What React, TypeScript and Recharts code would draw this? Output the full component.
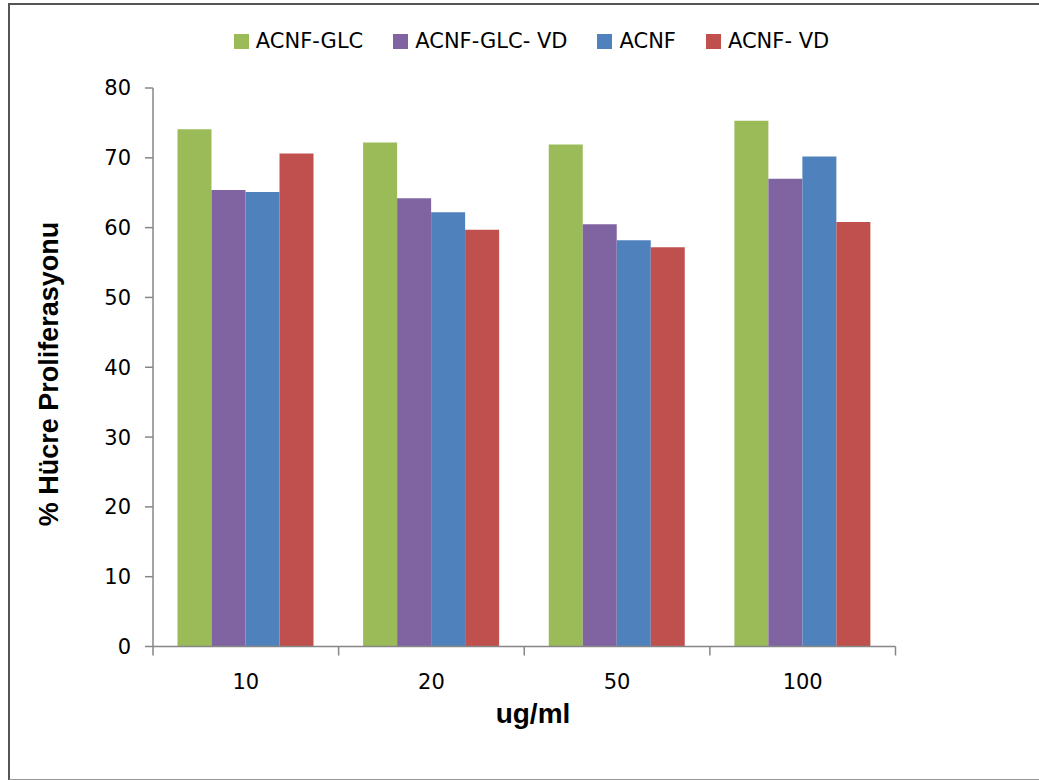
import { BarChart, Bar, XAxis, YAxis, Legend } from "recharts";

const doses = ["10", "20", "50", "100"];
const glc = [74.1, 72.2, 71.9, 75.3];
const glcVd = [65.4, 64.2, 60.5, 67.0];
const acnf = [65.1, 62.2, 58.2, 70.2];
const acnfVd = [70.6, 59.7, 57.2, 60.8];
const yTicks = [0, 10, 20, 30, 40, 50, 60, 70, 80];
// category boundaries (halfway between category positions)
const edgeTicks = [-0.5, 0.5, 1.5, 2.5, 3.5];

const series = [
  { key: "glc", name: "ACNF-GLC", color: "#9BBB59" },
  { key: "glcVd", name: "ACNF-GLC- VD", color: "#8064A2" },
  { key: "acnf", name: "ACNF", color: "#4F81BD" },
  { key: "acnfVd", name: "ACNF- VD", color: "#C0504D" },
];

const data = doses.map((dose, i) => ({
  dose,
  pos: i,
  glc: glc[i],
  glcVd: glcVd[i],
  acnf: acnf[i],
  acnfVd: acnfVd[i],
}));

const FONT = "'DejaVu Sans', sans-serif";
const AXIS = "#868686";
const tickStyle = { fill: "#000", fontSize: 21, fontFamily: FONT };

const LegendContent = () => (
  <div
    style={{
      display: "flex",
      justifyContent: "center",
      gap: 30,
      paddingLeft: 24,
      fontFamily: FONT,
      fontSize: 21,
      color: "#000",
    }}
  >
    {series.map((s) => (
      <span key={s.key} style={{ display: "flex", alignItems: "center", gap: 7 }}>
        <span style={{ width: 15, height: 15, background: s.color, display: "inline-block" }} />
        {s.name}
      </span>
    ))}
  </div>
);

export default function App() {
  return (
    <div style={{ position: "absolute", left: 0, top: 0, width: 1039, height: 780, background: "#fff" }}>
      <div
        style={{
          position: "absolute",
          left: 8,
          top: 3,
          width: 1040,
          height: 774,
          border: "2px solid #555",
          borderBottomColor: "#999",
        }}
      />
      <BarChart
        width={1039}
        height={780}
        data={data}
        margin={{ top: 88, right: 143.5, left: 93, bottom: 131.5 }}
        barCategoryGap={24.5}
        barGap={0}
      >
        <XAxis
          xAxisId="cat"
          dataKey="dose"
          height={1}
          tickLine={false}
          tickMargin={22}
          axisLine={{ stroke: AXIS, strokeWidth: 1.5 }}
          tick={tickStyle}
        />
        <XAxis
          xAxisId="edge"
          type="number"
          dataKey="pos"
          domain={[-0.5, 3.5]}
          ticks={edgeTicks}
          interval={0}
          allowDataOverflow
          height={1}
          axisLine={false}
          tickSize={9}
          tickLine={{ stroke: AXIS, strokeWidth: 1.5, transform: "translate(0,-1)" }}
          tickFormatter={() => ""}
        />
        <YAxis
          width={60}
          domain={[0, 80]}
          ticks={yTicks}
          tickSize={8}
          tickMargin={14}
          axisLine={{ stroke: AXIS, strokeWidth: 1.5 }}
          tickLine={{ stroke: AXIS, strokeWidth: 1.5 }}
          tick={tickStyle}
        />
        <Legend
          verticalAlign="middle"
          layout="horizontal"
          content={<LegendContent />}
          wrapperStyle={{ top: 29, left: 0, width: 1039 }}
        />
        {series.map((s) => (
          <Bar
            key={s.key}
            xAxisId="cat"
            dataKey={s.key}
            name={s.name}
            fill={s.color}
            isAnimationActive={false}
          />
        ))}
      </BarChart>
      <div
        style={{
          position: "absolute",
          left: 49,
          top: 374,
          transform: "translate(-50%, -50%) rotate(-90deg)",
          whiteSpace: "nowrap",
          fontFamily: "'Liberation Sans', Arial, sans-serif",
          fontWeight: "bold",
          fontSize: 27,
          color: "#000",
        }}
      >
        % Hücre Proliferasyonu
      </div>
      <div
        style={{
          position: "absolute",
          left: 533,
          top: 714,
          transform: "translate(-50%, -50%)",
          whiteSpace: "nowrap",
          fontFamily: "'Liberation Sans', Arial, sans-serif",
          fontWeight: "bold",
          fontSize: 28,
          color: "#000",
        }}
      >
        ug/ml
      </div>
    </div>
  );
}
